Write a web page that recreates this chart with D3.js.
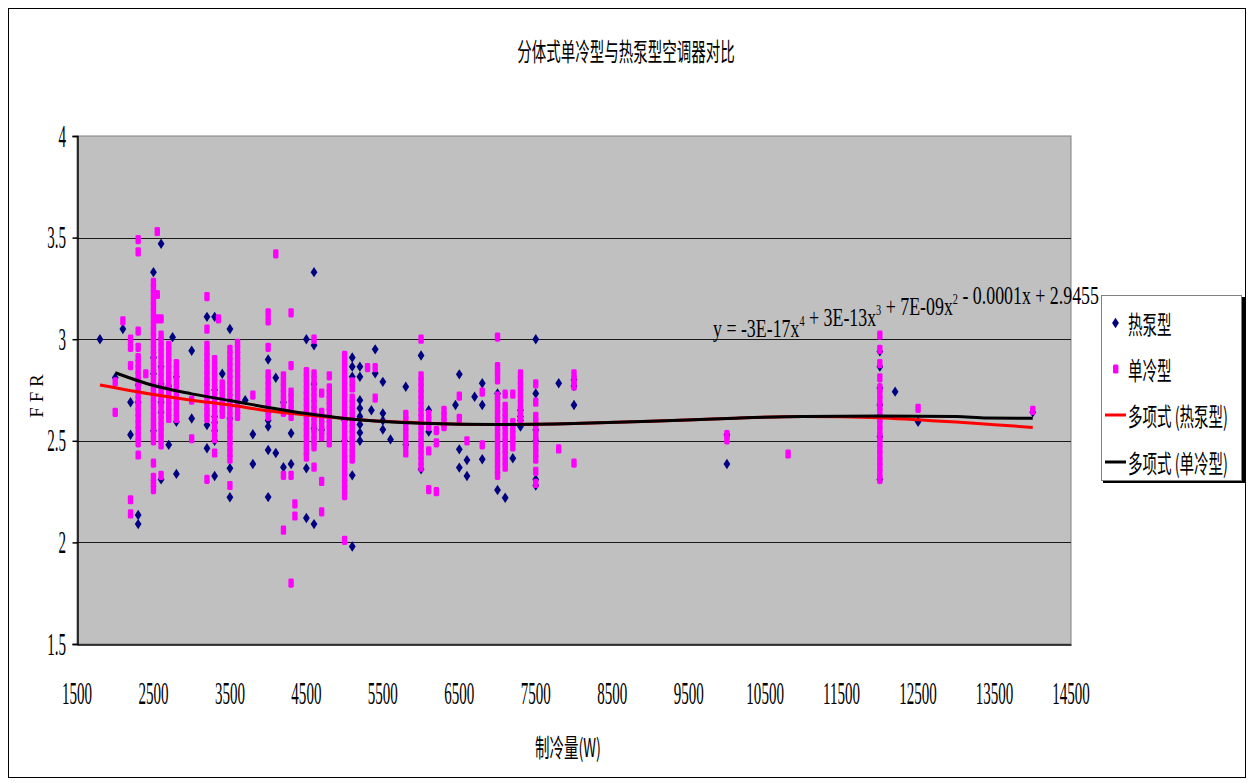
<!DOCTYPE html>
<html>
<head>
<meta charset="utf-8">
<script src="https://cdn.jsdelivr.net/npm/d3@7"></script>
<style>
  body { margin: 0; background: #ffffff; }
  svg { display: block; }
</style>
</head>
<body>
<svg id="chart" width="1254" height="783"></svg>
<script>
// ---- chart text ----
const chartTitle = "分体式单冷型与热泵型空调器对比";
const xAxisTitle = "制冷量(W)";
const yAxisTitle = "F F R";
const seriesNames = ["热泵型", "单冷型", "多项式\u00a0(热泵型)", "多项式\u00a0(单冷型)"];

// ---- axes ----
const xDomain = [1500, 14500];
const yDomain = [1.5, 4];
const xTickValues = [1500, 2500, 3500, 4500, 5500, 6500, 7500, 8500, 9500, 10500, 11500, 12500, 13500, 14500];
const yTickValues = [1.5, 2, 2.5, 3, 3.5, 4];
const yTickLabels = ["1.5", "2", "2.5", "3", "3.5", "4"];

// ---- 热泵型 measurements: [cooling capacity (W), [FFR values]] ----
const heatPump = [
  [1800, [3.00]],
  [2000, [2.81]],
  [2100, [3.05]],
  [2200, [2.69, 2.53]],
  [2300, [2.775, 2.69, 2.135, 2.09]],
  [2500, [3.33, 2.91, 2.83, 2.55]],
  [2600, [3.47, 2.865, 2.78, 2.69, 2.64, 2.31]],
  [2700, [2.77, 2.48]],
  [2750, [3.01]],
  [2800, [2.815, 2.594, 2.337]],
  [3000, [2.943, 2.61]],
  [3200, [3.11, 2.578, 2.463]],
  [3300, [3.11, 2.75, 2.62, 2.59, 2.55, 2.50, 2.327]],
  [3400, [2.83]],
  [3500, [3.05, 2.61, 2.365, 2.222]],
  [3700, [2.70]],
  [3800, [2.532, 2.386]],
  [4000, [2.90, 2.60, 2.57, 2.455, 2.223]],
  [4100, [2.81, 2.44]],
  [4200, [2.69, 2.37]],
  [4300, [2.537, 2.386]],
  [4500, [3.00, 2.365, 2.12]],
  [4600, [3.33, 2.97, 2.78, 2.56, 2.09]],
  [4700, [2.553]],
  [5000, [2.60, 2.50]],
  [5100, [2.91, 2.865, 2.815, 2.33, 1.98]],
  [5200, [2.865, 2.815, 2.70, 2.66, 2.62, 2.58, 2.54, 2.50]],
  [5350, [2.65]],
  [5400, [2.95, 2.832]],
  [5500, [2.79, 2.635, 2.60, 2.555]],
  [5600, [2.507]],
  [5800, [2.766, 2.48]],
  [6000, [2.92, 2.36]],
  [6100, [2.65, 2.545]],
  [6450, [2.676]],
  [6500, [2.827, 2.458, 2.368]],
  [6600, [2.405, 2.327]],
  [6700, [2.717]],
  [6800, [2.783, 2.676, 2.409]],
  [7000, [2.733, 2.258]],
  [7100, [2.22]],
  [7200, [2.414]],
  [7300, [2.65, 2.62, 2.60, 2.57]],
  [7500, [3.00, 2.733, 2.553, 2.50, 2.31, 2.28]],
  [7800, [2.783]],
  [8000, [2.80, 2.77, 2.676]],
  [10000, [2.53, 2.386]],
  [12000, [2.94, 2.865, 2.76, 2.676, 2.52, 2.31]],
  [12200, [2.742]],
  [12500, [2.594]],
  [14000, [2.64]]
];

// ---- 单冷型 measurements: [cooling capacity (W), [FFR values]] ----
const coolingOnly = [
  [2000, [2.79, 2.64]],
  [2100, [3.09]],
  [2200, [3.00, 2.96, 2.87, 2.21, 2.14]],
  [2300, [3.49, 3.43, 3.04, 2.96, 2.91, 2.88, 2.85, 2.82, 2.79, 2.76, 2.73, 2.70, 2.67, 2.64, 2.61, 2.58, 2.55, 2.52, 2.49, 2.43]],
  [2400, [2.83]],
  [2500, [3.28, 3.25, 3.22, 3.19, 3.16, 3.13, 3.10, 3.07, 3.04, 3.01, 2.98, 2.95, 2.92, 2.89, 2.86, 2.83, 2.80, 2.77, 2.74, 2.71, 2.68, 2.65, 2.62, 2.59, 2.56, 2.53, 2.50, 2.39, 2.32, 2.29, 2.26]],
  [2550, [3.53, 3.22, 3.10]],
  [2600, [3.10, 3.02, 2.99, 2.96, 2.93, 2.90, 2.87, 2.84, 2.81, 2.78, 2.75, 2.72, 2.69, 2.66, 2.63, 2.60, 2.57, 2.54, 2.51, 2.48, 2.33]],
  [2700, [2.97, 2.94, 2.91, 2.88, 2.85, 2.82, 2.79, 2.76, 2.73, 2.70, 2.67, 2.64, 2.61]],
  [2800, [2.88, 2.85, 2.82, 2.79, 2.76, 2.73, 2.70, 2.67, 2.64, 2.61]],
  [3000, [2.70, 2.51]],
  [3200, [3.21, 3.05, 2.97, 2.94, 2.91, 2.88, 2.85, 2.82, 2.79, 2.76, 2.73, 2.70, 2.67, 2.64, 2.61, 2.31]],
  [3300, [2.90, 2.87, 2.84, 2.81, 2.78, 2.75, 2.72, 2.69, 2.66, 2.63, 2.60, 2.57, 2.54, 2.51, 2.44]],
  [3350, [3.10]],
  [3400, [2.78, 2.75, 2.72, 2.69, 2.66, 2.63]],
  [3500, [2.95, 2.92, 2.89, 2.86, 2.83, 2.80, 2.77, 2.74, 2.71, 2.68, 2.65, 2.62, 2.59, 2.56, 2.53, 2.50, 2.47, 2.44, 2.41, 2.28]],
  [3600, [2.98, 2.95, 2.92, 2.89, 2.86, 2.83, 2.80, 2.77, 2.74, 2.71, 2.68, 2.65, 2.62]],
  [3800, [2.725]],
  [4000, [3.13, 3.09, 2.96, 2.83, 2.80, 2.77, 2.74, 2.71, 2.68, 2.65, 2.62]],
  [4100, [3.42]],
  [4200, [2.82, 2.79, 2.76, 2.73, 2.70, 2.67, 2.64, 2.33, 2.06]],
  [4300, [3.13, 2.87, 2.74, 2.71, 2.68, 2.65, 2.62, 2.33, 1.80]],
  [4350, [2.19, 2.13]],
  [4500, [2.84, 2.81, 2.78, 2.75, 2.72, 2.69, 2.66, 2.63, 2.60, 2.57, 2.54, 2.51, 2.48, 2.45, 2.42]],
  [4600, [3.00, 2.83, 2.80, 2.77, 2.74, 2.71, 2.68, 2.65, 2.62, 2.59, 2.56, 2.53, 2.50, 2.47, 2.37]],
  [4700, [2.735, 2.64, 2.61, 2.58, 2.55, 2.52, 2.30, 2.15]],
  [4800, [2.82, 2.76, 2.73, 2.70, 2.67, 2.64, 2.61, 2.58, 2.55, 2.52, 2.49]],
  [5000, [2.92, 2.89, 2.86, 2.83, 2.80, 2.77, 2.74, 2.71, 2.68, 2.65, 2.62, 2.59, 2.56, 2.53, 2.50, 2.47, 2.44, 2.41, 2.38, 2.35, 2.32, 2.29, 2.26, 2.23, 2.01]],
  [5100, [2.79, 2.76, 2.71, 2.68, 2.65, 2.62, 2.59, 2.56, 2.53, 2.50, 2.47, 2.44, 2.41]],
  [5300, [2.86]],
  [5400, [2.86, 2.71]],
  [5800, [2.63, 2.60, 2.57, 2.54, 2.51, 2.48, 2.44]],
  [6000, [3.00, 2.82, 2.79, 2.76, 2.73, 2.70, 2.67, 2.64, 2.61, 2.58, 2.55, 2.52, 2.49, 2.46, 2.43, 2.40, 2.37]],
  [6100, [2.63, 2.60, 2.57, 2.45, 2.26]],
  [6200, [2.55, 2.49, 2.25]],
  [6300, [2.65, 2.62, 2.59, 2.57]],
  [6500, [2.72, 2.61]],
  [6600, [2.50]],
  [6800, [2.74, 2.48]],
  [7000, [3.01, 2.865, 2.835, 2.80, 2.72, 2.69, 2.66, 2.63, 2.60, 2.57, 2.54, 2.51, 2.48, 2.45, 2.42, 2.39, 2.36, 2.33]],
  [7100, [2.73, 2.67, 2.64, 2.61, 2.58, 2.55, 2.52, 2.49, 2.46, 2.43, 2.40, 2.37]],
  [7200, [2.73, 2.59, 2.56, 2.53, 2.50, 2.47]],
  [7300, [2.83, 2.80, 2.77, 2.74, 2.71, 2.68, 2.65, 2.62, 2.60]],
  [7500, [2.78, 2.69, 2.62, 2.59, 2.56, 2.53, 2.50, 2.47, 2.44, 2.41, 2.35, 2.29]],
  [7800, [2.46]],
  [8000, [2.83, 2.80, 2.77, 2.39]],
  [10000, [2.53, 2.505]],
  [10800, [2.435]],
  [12000, [3.02, 2.95, 2.88, 2.81, 2.76, 2.73, 2.70, 2.67, 2.64, 2.61, 2.58, 2.55, 2.52, 2.49, 2.46, 2.43, 2.40, 2.37, 2.34, 2.31]],
  [12500, [2.66]],
  [14000, [2.65]]
];

// ---- fitted trend lines (4th-order polynomials), sampled ----
const trendHeatPumpX = [1800, 2500, 3000, 3500, 4000, 4500, 5000, 5500, 6000, 7000, 8000, 9000, 10000, 11000, 12000, 12500, 13000, 13500, 14000];
const trendHeatPumpY = [2.775, 2.728, 2.70, 2.676, 2.648, 2.627, 2.61, 2.596, 2.588, 2.580, 2.585, 2.596, 2.610, 2.620, 2.614, 2.603, 2.592, 2.579, 2.566];
const trendCoolingX = [2000, 2500, 3000, 3500, 4000, 4500, 5000, 5500, 6000, 7000, 8000, 9000, 10000, 11000, 12000, 13000, 13400, 14000];
const trendCoolingY = [2.835, 2.772, 2.731, 2.698, 2.664, 2.634, 2.61, 2.595, 2.586, 2.580, 2.585, 2.596, 2.610, 2.620, 2.622, 2.620, 2.612, 2.611];

// equation label parts: [text, isSuperscript]
const equationParts = [
  ["y\u00a0=\u00a0-3E-17x", false], ["4", true], ["\u00a0+\u00a03E-13x", false], ["3", true],
  ["\u00a0+\u00a07E-09x", false], ["2", true], ["\u00a0-\u00a00.0001x\u00a0+\u00a02.9455", false]
];

// ---- layout ----
const plot = { left: 77, right: 1071, top: 136, bottom: 644 };
const numFont = "'Liberation Serif', 'DejaVu Serif', serif";
const cjkFont = "'Noto Sans CJK SC', 'Noto Sans', sans-serif";

const svg = d3.select("#chart");

const x = d3.scaleLinear().domain(xDomain).range([plot.left, plot.right]);
const y = d3.scaleLinear().domain(yDomain).range([plot.bottom, plot.top]);

// outer frame
svg.append("rect")
  .attr("x", 8.5).attr("y", 8.5).attr("width", 1237).attr("height", 769)
  .attr("fill", "#fff").attr("stroke", "#000").attr("stroke-width", 1);

// plot area
svg.append("rect")
  .attr("x", plot.left).attr("y", plot.top)
  .attr("width", plot.right - plot.left).attr("height", plot.bottom - plot.top)
  .attr("fill", "#c0c0c0").attr("stroke", "#808080").attr("stroke-width", 1);

// horizontal gridlines
svg.append("g")
  .selectAll("line")
  .data(yTickValues.filter(v => v > yDomain[0] && v < yDomain[1]))
  .join("line")
  .attr("x1", plot.left).attr("x2", plot.right)
  .attr("y1", d => Math.round(y(d)) + 0.5).attr("y2", d => Math.round(y(d)) + 0.5)
  .attr("stroke", "#1a1a1a").attr("stroke-width", 1);

// y axis
const yAxis = d3.axisLeft(y).tickValues(yTickValues).tickSize(5).tickFormat(() => "");
const gy = svg.append("g").attr("transform", `translate(${plot.left + 0.5},0)`).call(yAxis);
gy.selectAll("path, line").attr("stroke", "#000").attr("stroke-width", 1.5);

// x axis line
const xAxis = d3.axisBottom(x).tickValues(xTickValues).tickSize(0).tickFormat(() => "");
const gx = svg.append("g").attr("transform", `translate(0,${plot.bottom + 0.5})`).call(xAxis);
gx.selectAll("path").attr("stroke", "#000").attr("stroke-width", 1.5);

// narrow tall text helper
function narrowText(parent, tx, ty, str, opts) {
  const g = parent.append("g")
    .attr("transform", `translate(${tx},${ty}) scale(${opts.sx},1)`);
  const t = g.append("text")
    .attr("x", 0).attr("y", 0)
    .attr("dy", opts.dy || "0.35em")
    .attr("text-anchor", opts.anchor || "middle")
    .attr("font-family", opts.font)
    .attr("font-size", opts.size)
    .attr("fill", opts.fill || "#000")
    .text(str);
  return t;
}

// y tick labels
yTickValues.forEach((v, i) => {
  narrowText(svg, 66, y(v), yTickLabels[i], { sx: 0.47, size: 32, font: numFont, anchor: "end", dy: "0.33em" });
});

// x tick labels
xTickValues.forEach(v => {
  narrowText(svg, x(v), 693, String(v), { sx: 0.47, size: 32, font: numFont, dy: "0.33em" });
});

// titles
narrowText(svg, 626, 52, chartTitle, { sx: 0.58, size: 25, font: cjkFont });
narrowText(svg, 568, 748, xAxisTitle, { sx: 0.58, size: 25, font: cjkFont });

svg.append("text")
  .attr("transform", `translate(36,396) rotate(-90)`)
  .attr("text-anchor", "middle").attr("dy", "0.35em")
  .attr("font-family", numFont).attr("font-size", 19)
  .text(yAxisTitle);

// scatter markers
const diamondPath = "M0,-5.2L3.4,0L0,5.2L-3.4,0Z";
const heatPoints = heatPump.flatMap(([cx, ys]) => ys.map(v => ({ x: cx, y: v })));
const coolPoints = coolingOnly.flatMap(([cx, ys]) => ys.map(v => ({ x: cx, y: v })));

svg.append("clipPath").attr("id", "plotClip")
  .append("rect").attr("x", plot.left).attr("y", plot.top)
  .attr("width", plot.right - plot.left).attr("height", plot.bottom - plot.top);

const marks = svg.append("g").attr("clip-path", "url(#plotClip)");

marks.append("g").selectAll("path")
  .data(heatPoints).join("path")
  .attr("d", diamondPath)
  .attr("transform", d => `translate(${x(d.x)},${y(d.y)})`)
  .attr("fill", "#000080");

marks.append("g").selectAll("rect")
  .data(coolPoints).join("rect")
  .attr("x", d => x(d.x) - 2.7).attr("y", d => y(d.y) - 4.6)
  .attr("width", 5.4).attr("height", 9.2).attr("rx", 1.4)
  .attr("fill", "#ff00ff");

// trend lines
const line = d3.line().x(d => x(d[0])).y(d => y(d[1])).curve(d3.curveMonotoneX);
marks.append("path")
  .datum(d3.zip(trendHeatPumpX, trendHeatPumpY))
  .attr("d", line).attr("fill", "none").attr("stroke", "#ff0000").attr("stroke-width", 3);
marks.append("path")
  .datum(d3.zip(trendCoolingX, trendCoolingY))
  .attr("d", line).attr("fill", "none").attr("stroke", "#000000").attr("stroke-width", 3);

// equation label
const eqG = svg.append("g");
const eqText = eqG.append("text")
  .attr("x", 0).attr("y", 0)
  .attr("font-family", numFont).attr("font-size", 26).attr("fill", "#000");
equationParts.forEach(([s, sup]) => {
  eqText.append("tspan")
    .attr("font-size", sup ? 15 : 26)
    .attr("dy", sup ? -11 : 0)
    .text(s);
  if (sup) eqText.append("tspan").attr("dy", 11).text("");
});
const eqWidth = eqText.node().getComputedTextLength();
eqG.attr("transform", `translate(713,337) scale(${386 / eqWidth},1)`);

// legend
const lg = svg.append("g");
lg.append("rect").attr("x", 1103).attr("y", 297).attr("width", 142).attr("height", 186).attr("fill", "#000");
lg.append("rect").attr("x", 1101.5).attr("y", 295.5).attr("width", 140).attr("height", 185)
  .attr("fill", "#fff").attr("stroke", "#808080").attr("stroke-width", 1);

const legendRows = [323, 369, 415, 462];
lg.append("path").attr("d", diamondPath).attr("transform", `translate(1115.5,${legendRows[0]})`).attr("fill", "#000080");
lg.append("rect").attr("x", 1113).attr("y", legendRows[1] - 4.6).attr("width", 5.4).attr("height", 9.2).attr("rx", 1.4).attr("fill", "#ff00ff");
lg.append("line").attr("x1", 1105).attr("x2", 1126).attr("y1", legendRows[2]).attr("y2", legendRows[2]).attr("stroke", "#ff0000").attr("stroke-width", 3);
lg.append("line").attr("x1", 1105).attr("x2", 1126).attr("y1", legendRows[3]).attr("y2", legendRows[3]).attr("stroke", "#000").attr("stroke-width", 3);

seriesNames.forEach((name, i) => {
  narrowText(lg, 1128, legendRows[i] + 2, name, { sx: 0.58, size: 25, font: cjkFont, anchor: "start" });
});
</script>
</body>
</html>
